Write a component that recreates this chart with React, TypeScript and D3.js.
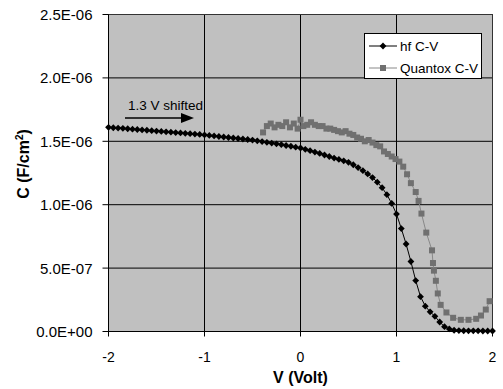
import * as d3 from "d3";

const FONT = "'Liberation Sans', Arial, sans-serif";

const xTicks = [-2, -1, 0, 1, 2];
const yTicks = [0, 0.5, 1, 1.5, 2, 2.5];
const yTickLabels = ["0.0E+00", "5.0E-07", "1.0E-06", "1.5E-06", "2.0E-06", "2.5E-06"];

// hf C-V, capacitance in µF/cm² (1E-06 F/cm²)
const hfVolts = [
  -2.0, -1.95, -1.9, -1.85, -1.8, -1.75, -1.7, -1.65, -1.6, -1.55,
  -1.5, -1.45, -1.4, -1.35, -1.3, -1.25, -1.2, -1.15, -1.1, -1.05,
  -1.0, -0.95, -0.9, -0.85, -0.8, -0.75, -0.7, -0.65, -0.6, -0.55,
  -0.5, -0.45, -0.4, -0.35, -0.3, -0.25, -0.2, -0.15, -0.1, -0.05,
  0.0, 0.05, 0.1, 0.15, 0.2, 0.25, 0.3, 0.35, 0.4, 0.45,
  0.5, 0.55, 0.6, 0.65, 0.7, 0.75, 0.8, 0.85, 0.9, 0.95,
  1.0, 1.05, 1.1, 1.15, 1.2, 1.25, 1.3, 1.35, 1.4, 1.45,
  1.5, 1.55, 1.6, 1.65, 1.7, 1.75, 1.8, 1.85, 1.9, 1.95, 2.0,
];
const hfCap = [
  1.61, 1.607, 1.604, 1.602, 1.599, 1.596, 1.593, 1.59, 1.587, 1.584,
  1.581, 1.578, 1.575, 1.572, 1.569, 1.566, 1.563, 1.56, 1.557, 1.554,
  1.55, 1.546, 1.542, 1.538, 1.534, 1.53, 1.526, 1.522, 1.518, 1.514,
  1.51, 1.504, 1.498, 1.492, 1.486, 1.48, 1.474, 1.467, 1.461, 1.454,
  1.447, 1.437, 1.426, 1.415, 1.404, 1.392, 1.38, 1.368, 1.357, 1.346,
  1.334, 1.315, 1.293, 1.268, 1.243, 1.214, 1.178, 1.134, 1.079, 1.01,
  0.926, 0.812, 0.69, 0.552, 0.402, 0.275, 0.2, 0.155, 0.12, 0.075,
  0.038, 0.02, 0.01, 0.007, 0.006, 0.005, 0.005, 0.005, 0.004, 0.004, 0.004,
];

// Quantox C-V
const qxVolts = [
  -0.39, -0.35, -0.31, -0.27, -0.23, -0.19, -0.15, -0.11, -0.07, -0.03,
  0.0, 0.03, 0.07, 0.11, 0.15, 0.19, 0.23, 0.27, 0.31, 0.35,
  0.39, 0.43, 0.47, 0.51, 0.55, 0.59, 0.63, 0.67, 0.71, 0.75,
  0.79, 0.83, 0.87, 0.91, 0.95, 0.99, 1.03, 1.07, 1.11, 1.15,
  1.2, 1.23, 1.26, 1.31, 1.37, 1.38, 1.39, 1.41, 1.43, 1.46,
  1.52, 1.59, 1.67, 1.75, 1.83, 1.88, 1.93, 1.97,
];
const qxCap = [
  1.57, 1.62, 1.64, 1.61, 1.63, 1.62, 1.65, 1.61, 1.64, 1.6,
  1.67, 1.62, 1.63, 1.65, 1.63, 1.62, 1.62, 1.6, 1.6, 1.59,
  1.58, 1.57, 1.58, 1.56, 1.55, 1.53, 1.52, 1.5, 1.51, 1.49,
  1.47, 1.46, 1.42, 1.4, 1.38, 1.36, 1.34, 1.3, 1.24, 1.17,
  1.1, 1.03, 0.93, 0.78, 0.64, 0.54, 0.48, 0.4, 0.3, 0.21,
  0.15, 0.108, 0.092, 0.092, 0.1, 0.126, 0.173, 0.239,
];

const DIAMOND = "M0,-3.4L3.4,0L0,3.4L-3.4,0Z";
const QX_FILL = "#707070";

export default function App() {
  const width = 503;
  const height = 389;
  const x = d3.scaleLinear().domain([-2, 2]).range([108.5, 492.5]);
  const y = d3.scaleLinear().domain([0, 2.5]).range([331.5, 14.5]);
  const [x0, x1] = x.range();
  const [y0, y1] = y.range();

  const line = d3
    .line<[number, number]>()
    .x((d) => x(d[0]))
    .y((d) => y(d[1]));
  const hf: [number, number][] = hfVolts.map((v, i) => [v, hfCap[i]]);
  const qx: [number, number][] = qxVolts.map((v, i) => [v, qxCap[i]]);

  return (
    <svg
      width={width}
      height={height}
      style={{ position: "absolute", left: 0, top: 0, background: "#fff" }}
      fontFamily={FONT}
    >
      {/* plot area */}
      <rect x={x0} y={y1} width={x1 - x0} height={y0 - y1} fill="#c0c0c0" />
      {xTicks.slice(1, -1).map((t) => (
        <line key={`gx${t}`} x1={x(t)} x2={x(t)} y1={y1} y2={y0} stroke="#000" strokeWidth={1} />
      ))}
      {yTicks.slice(1, -1).map((t) => (
        <line key={`gy${t}`} x1={x0} x2={x1} y1={y(t)} y2={y(t)} stroke="#000" strokeWidth={1} />
      ))}
      <rect x={x0} y={y1} width={x1 - x0} height={y0 - y1} fill="none" stroke="#333" strokeWidth={1} />

      {/* y axis */}
      <line x1={x0} x2={x0} y1={y1} y2={y0} stroke="#000" />
      {yTicks.map((t, i) => (
        <g key={`ty${t}`}>
          <line x1={x0 - 6} x2={x0} y1={y(t)} y2={y(t)} stroke="#000" />
          <text x={x0 - 16} y={y(t)} dy="0.36em" textAnchor="end" fontSize={15} fill="#000">
            {yTickLabels[i]}
          </text>
        </g>
      ))}

      {/* x axis */}
      <line x1={x0} x2={x1} y1={y0} y2={y0} stroke="#000" />
      {xTicks.map((t) => (
        <g key={`tx${t}`}>
          <line x1={x(t)} x2={x(t)} y1={y0} y2={y0 + 5} stroke="#000" />
          <text x={x(t)} y={361.5} textAnchor="middle" fontSize={14} fill="#000">
            {t}
          </text>
        </g>
      ))}

      {/* axis titles */}
      <text x={(x0 + x1) / 2} y={383} textAnchor="middle" fontSize={16} fontWeight="bold">
        V (Volt)
      </text>
      <text
        transform="translate(23,164) rotate(-90)"
        textAnchor="middle"
        dy="0.36em"
        fontSize={16}
        fontWeight="bold"
      >
        C (F/cm
        <tspan fontSize={10} dy={-6}>2</tspan>
        <tspan dy={6}>)</tspan>
      </text>

      {/* Quantox series */}
      <path d={line(qx) ?? ""} fill="none" stroke="#888" strokeWidth={1} />
      {qx.map((d, i) => (
        <rect key={`q${i}`} x={x(d[0]) - 3} y={y(d[1]) - 3} width={6} height={6} fill={QX_FILL} />
      ))}

      {/* hf series */}
      <path d={line(hf) ?? ""} fill="none" stroke="#000" strokeWidth={1} />
      {hf.map((d, i) => (
        <path key={`h${i}`} d={DIAMOND} transform={`translate(${x(d[0])},${y(d[1])})`} fill="#000" />
      ))}

      {/* annotation */}
      <text x={128} y={110} fontSize={13.5} fill="#000">1.3 V shifted</text>
      <line x1={125} x2={183} y1={118} y2={118} stroke="#000" strokeWidth={1.5} />
      <path d="M181,113L194,118L181,123Z" fill="#000" />

      {/* legend */}
      <g>
        <rect x={364.5} y={33.5} width={117} height={45} fill="#fff" stroke="#000" />
        <line x1={369} x2={397} y1={46} y2={46} stroke="#000" />
        <path d={DIAMOND} transform="translate(383,46)" fill="#000" />
        <text x={400} y={50.5} fontSize={13.5}>hf C-V</text>
        <line x1={369} x2={397} y1={68} y2={68} stroke="#888" />
        <rect x={380} y={65} width={6} height={6} fill={QX_FILL} />
        <text x={400} y={72.5} fontSize={13.5}>Quantox C-V</text>
      </g>
    </svg>
  );
}
